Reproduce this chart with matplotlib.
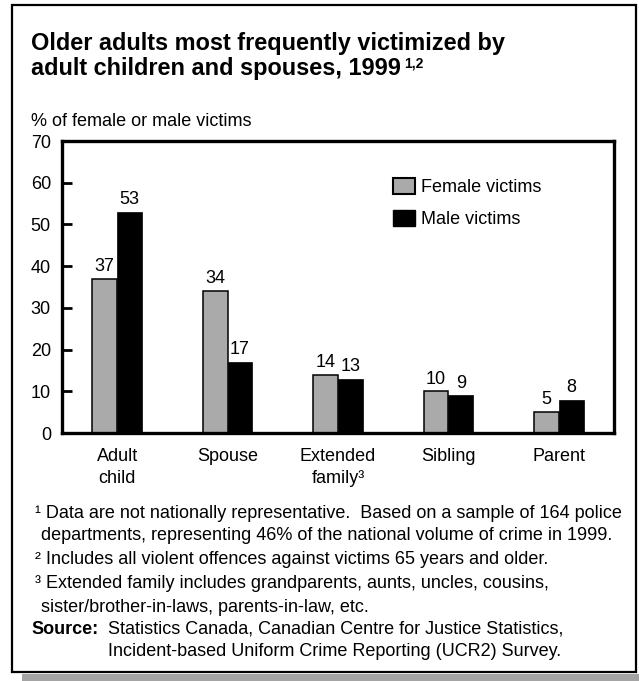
import matplotlib
matplotlib.use("Agg")
import matplotlib.pyplot as plt
import numpy as np
from matplotlib.patches import Rectangle, Patch

plt.rcParams['font.family'] = ['Liberation Sans', 'DejaVu Sans']

categories = ["Adult\nchild", "Spouse", "Extended\nfamily³", "Sibling", "Parent"]
female = [37, 34, 14, 10, 5]
male = [53, 17, 13, 9, 8]
yticks = [0, 10, 20, 30, 40, 50, 60, 70]

title1 = "Older adults most frequently victimized by"
title2 = "adult children and spouses, 1999"
title_sup = "1,2"
ylabel = "% of female or male victims"
notes = [
    "¹ Data are not nationally representative.  Based on a sample of 164 police",
    "departments, representing 46% of the national volume of crime in 1999.",
    "² Includes all violent offences against victims 65 years and older.",
    "³ Extended family includes grandparents, aunts, uncles, cousins,",
    "sister/brother-in-laws, parents-in-law, etc.",
]
source = ["Statistics Canada, Canadian Centre for Justice Statistics,",
          "Incident-based Uniform Crime Reporting (UCR2) Survey."]

W, H = 639, 681
fig = plt.figure(figsize=(W / 100, H / 100), dpi=100)
renderer = fig.canvas.get_renderer()

def fx(px):
    return px / W

def fy(py):
    return 1 - py / H

def fit(t, target_px):
    w = t.get_window_extent(renderer).width
    t.set_fontsize(t.get_fontsize() * target_px / w)
    return t.get_fontsize()

# shadow and frame
fig.patches.append(Rectangle((fx(22), fy(681)), fx(639) - fx(22), fy(674) - fy(681),
                             transform=fig.transFigure, facecolor='#a4a4a4', edgecolor='none', zorder=0))
fig.patches.append(Rectangle((fx(12), fy(672)), fx(636) - fx(12), fy(5) - fy(672),
                             transform=fig.transFigure, facecolor='white', edgecolor='black',
                             linewidth=1.6, zorder=1))

ax = fig.add_axes([fx(62), fy(433), fx(614) - fx(62), fy(141) - fy(433)])
ax.set_zorder(2)
x = np.arange(len(categories))
bw = 0.225
b1 = ax.bar(x - bw / 2, female, bw, color='#aaaaaa', edgecolor='black', linewidth=1.1)
b2 = ax.bar(x + bw / 2, male, bw, color='black', edgecolor='black', linewidth=0.5)

for bars, vals in ((b1, female), (b2, male)):
    for rect, v in zip(bars, vals):
        ax.text(rect.get_x() + rect.get_width() / 2, v + 0.9, str(v), ha='center', va='bottom',
                fontsize=13)

ax.set_xlim(-0.5, 4.5)
ax.set_ylim(0, 70)
ax.set_yticks(yticks)
ax.set_yticklabels([str(t) for t in yticks], fontsize=13)
ax.tick_params(axis='y', direction='in', length=7, width=2, pad=8)
ax.set_xticks(x)
ax.set_xticklabels(categories, fontsize=13, linespacing=1.4)
ax.tick_params(axis='x', length=0, pad=11)
for s in ax.spines.values():
    s.set_linewidth(2.4)

handles = [Patch(facecolor='#aaaaaa', edgecolor='black', linewidth=1.5, label='Female victims'),
           Patch(facecolor='black', edgecolor='black', label='Male victims')]
ax.legend(handles=handles, loc='upper left', bbox_to_anchor=((393 - 62) / 552, (433 - 178) / 292),
          frameon=False, fontsize=13, handlelength=1.2, handleheight=0.95, handletextpad=0.33,
          labelspacing=0.8, borderaxespad=0, borderpad=0)

# title
t1 = fig.text(fx(31), fy(50), title1, fontsize=14.5, fontweight='bold', va='baseline', ha='left')
tsize = fit(t1, 474)
t2 = fig.text(fx(31), fy(75), title2, fontsize=tsize, fontweight='bold', va='baseline', ha='left')
bb = t2.get_window_extent(renderer)
fig.text(bb.x1 / W + fx(3), fy(67), title_sup, fontsize=10, fontweight='bold',
         va='baseline', ha='left')

fig.text(fx(31), fy(121), ylabel, fontsize=13, va='center', ha='left')

n1 = fig.text(fx(35), fy(514), notes[0], fontsize=12, va='center', ha='left')
nsize = fit(n1, 590)
note_pos = [(41, 536), (35, 559), (35, 583), (41, 607)]
for (px, py), s in zip(note_pos, notes[1:]):
    fig.text(fx(px), fy(py), s, fontsize=nsize, va='center', ha='left')
fig.text(fx(31), fy(629), "Source:", fontsize=nsize, fontweight='bold', va='center', ha='left')
for py, s in zip((629, 651), source):
    fig.text(fx(108), fy(py), s, fontsize=nsize, va='center', ha='left')

fig.savefig("out.png", dpi=100)
